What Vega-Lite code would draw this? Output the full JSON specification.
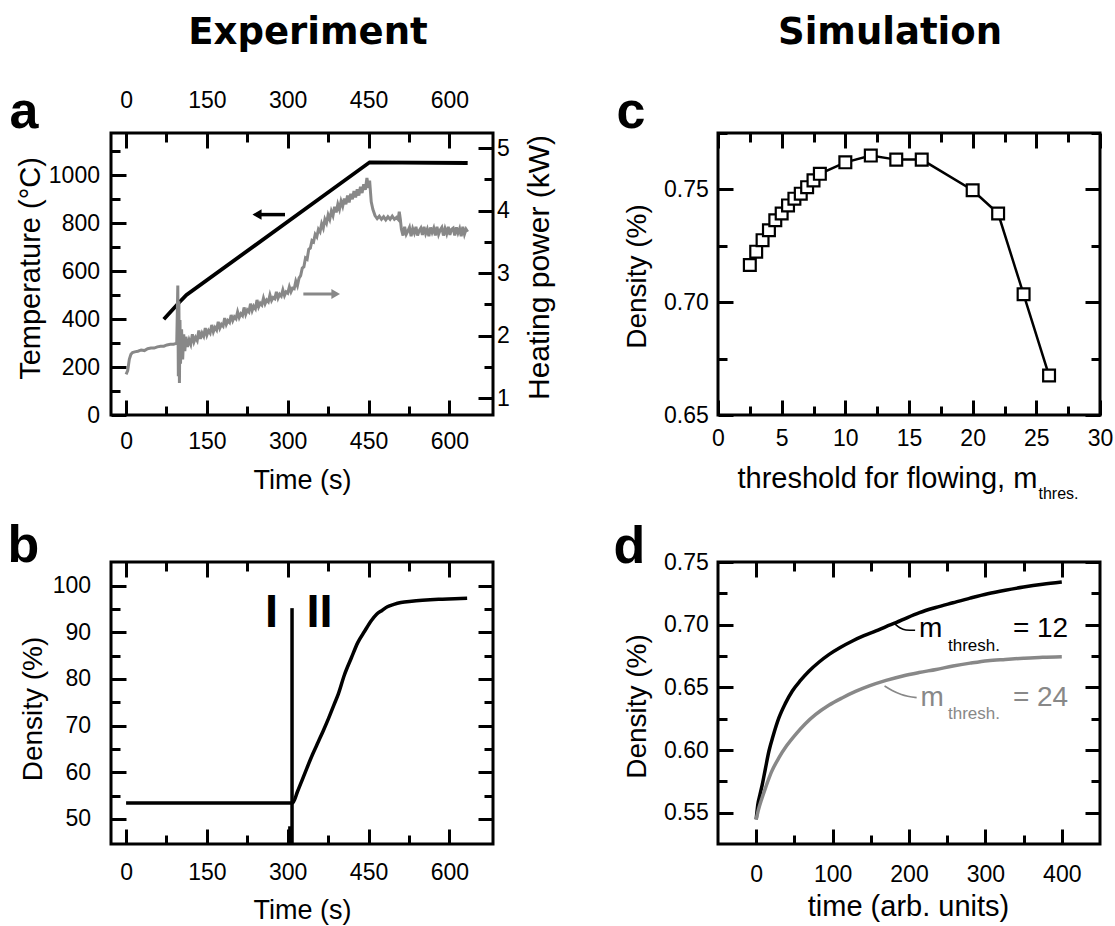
{
  "$schema": "https://vega.github.io/schema/vega-lite/v6.json",
  "padding": {"left": 5, "top": 12, "right": 2, "bottom": 2},
  "columns": 2,
  "bounds": "flush",
  "spacing": {"row": 147, "column": 225},
  "config": {
    "font": "Liberation Sans",
    "background": "white",
    "view": {"stroke": "black", "strokeWidth": 3},
    "axis": {
      "domain": false, "grid": false, "ticks": true, "tickSize": -15, "zindex": 1,
      "tickColor": "black", "tickWidth": 3, "tickOpacity": 1,
      "labelFont": "Liberation Sans", "labelFontSize": 23, "labelColor": "black",
      "labelFlush": false, "labelOverlap": false, "labelBound": false,
      "titleFont": "Liberation Sans", "titleFontWeight": "normal", "titleColor": "black", "titleFontSize": 28
    }
  },
  "datasets": {
    "temp": [{"t":70,"T":399},{"t":84,"T":433},{"t":98,"T":468},{"t":112,"T":500},{"t":452,"T":1053},{"t":634,"T":1050}],
    "power": [
      {"t":0,"P":1.38},{"t":3,"P":1.44},{"t":6,"P":1.62},{"t":9,"P":1.70},{"t":12,"P":1.73},{"t":16,"P":1.74},{"t":22,"P":1.75},{"t":28,"P":1.77},{"t":34,"P":1.76},{"t":40,"P":1.79},{"t":46,"P":1.80},{"t":52,"P":1.80},{"t":58,"P":1.82},{"t":64,"P":1.83},{"t":70,"P":1.83},{"t":76,"P":1.85},{"t":82,"P":1.86},{"t":88,"P":1.86},{"t":94,"P":1.88},
      {"t":96,"P":2.80},{"t":97,"P":1.35},{"t":98,"P":2.55},{"t":99,"P":1.24},{"t":100,"P":2.25},{"t":101,"P":1.55},{"t":103,"P":2.10},{"t":105,"P":1.62},{"t":107,"P":2.02},{"t":109,"P":1.75},{"t":111,"P":1.98},{"t":114,"P":1.82},{"t":117,"P":1.93},{"t":120,"P":1.86},
      {"t":123,"P":2.02},{"t":126,"P":1.90},{"t":129,"P":1.97},{"t":132,"P":1.92},{"t":135,"P":2.08},{"t":138,"P":1.95},{"t":141,"P":2.04},{"t":144,"P":1.99},{"t":147,"P":2.12},{"t":150,"P":2.01},{"t":153,"P":2.08},{"t":156,"P":2.04},{"t":159,"P":2.17},{"t":162,"P":2.06},{"t":165,"P":2.13},{"t":168,"P":2.09},{"t":171,"P":2.22},{"t":174,"P":2.12},{"t":177,"P":2.18},{"t":180,"P":2.15},
      {"t":183,"P":2.28},{"t":186,"P":2.18},{"t":189,"P":2.24},{"t":192,"P":2.21},{"t":195,"P":2.33},{"t":198,"P":2.24},{"t":201,"P":2.30},{"t":204,"P":2.27},{"t":207,"P":2.38},{"t":210,"P":2.29},{"t":213,"P":2.35},{"t":216,"P":2.32},{"t":219,"P":2.45},{"t":222,"P":2.34},{"t":225,"P":2.41},{"t":228,"P":2.38},{"t":231,"P":2.51},{"t":234,"P":2.40},{"t":237,"P":2.47},{"t":240,"P":2.43},
      {"t":243,"P":2.57},{"t":246,"P":2.46},{"t":249,"P":2.52},{"t":252,"P":2.49},{"t":255,"P":2.60},{"t":258,"P":2.51},{"t":261,"P":2.57},{"t":264,"P":2.54},{"t":267,"P":2.65},{"t":270,"P":2.56},{"t":273,"P":2.61},{"t":276,"P":2.59},{"t":279,"P":2.70},{"t":282,"P":2.60},{"t":285,"P":2.66},{"t":288,"P":2.63},{"t":291,"P":2.73},{"t":294,"P":2.64},{"t":297,"P":2.70},{"t":300,"P":2.68},
      {"t":303,"P":2.78},{"t":306,"P":2.70},{"t":309,"P":2.76},{"t":312,"P":2.75},{"t":315,"P":2.87},{"t":318,"P":2.80},{"t":321,"P":2.92},{"t":324,"P":2.96},{"t":327,"P":3.08},{"t":330,"P":3.10},{"t":333,"P":3.24},{"t":336,"P":3.22},{"t":339,"P":3.38},{"t":342,"P":3.40},{"t":345,"P":3.52},{"t":348,"P":3.50},{"t":351,"P":3.62},{"t":354,"P":3.58},{"t":357,"P":3.70},{"t":360,"P":3.66},
      {"t":363,"P":3.79},{"t":366,"P":3.72},{"t":369,"P":3.86},{"t":372,"P":3.80},{"t":375,"P":3.93},{"t":378,"P":3.86},{"t":381,"P":3.99},{"t":384,"P":3.92},{"t":387,"P":4.06},{"t":390,"P":3.97},{"t":393,"P":4.10},{"t":396,"P":4.02},{"t":399,"P":4.15},{"t":402,"P":4.07},{"t":405,"P":4.19},{"t":408,"P":4.10},{"t":411,"P":4.24},{"t":414,"P":4.13},{"t":417,"P":4.27},{"t":420,"P":4.18},
      {"t":423,"P":4.31},{"t":426,"P":4.21},{"t":429,"P":4.34},{"t":432,"P":4.24},{"t":435,"P":4.38},{"t":438,"P":4.28},{"t":441,"P":4.42},{"t":444,"P":4.33},{"t":447,"P":4.52},{"t":450,"P":4.36},{"t":452,"P":4.48},{"t":455,"P":4.14},{"t":458,"P":4.02},{"t":462,"P":3.92},{"t":466,"P":3.87},{"t":470,"P":3.91},{"t":474,"P":3.86},{"t":478,"P":3.90},{"t":482,"P":3.85},{"t":486,"P":3.90},{"t":490,"P":3.86},{"t":494,"P":3.91},{"t":498,"P":3.86},{"t":502,"P":3.89},{"t":505,"P":3.86},{"t":507,"P":3.98},{"t":509,"P":3.86},
      {"t":511,"P":3.70},{"t":514,"P":3.60},{"t":517,"P":3.74},{"t":520,"P":3.62},{"t":523,"P":3.67},{"t":526,"P":3.73},{"t":529,"P":3.59},{"t":532,"P":3.71},{"t":535,"P":3.64},{"t":538,"P":3.74},{"t":541,"P":3.60},{"t":544,"P":3.68},{"t":547,"P":3.72},{"t":550,"P":3.61},{"t":553,"P":3.74},{"t":556,"P":3.63},{"t":559,"P":3.70},{"t":562,"P":3.59},{"t":565,"P":3.73},{"t":568,"P":3.65},{"t":571,"P":3.72},{"t":574,"P":3.60},{"t":577,"P":3.74},{"t":580,"P":3.62},
      {"t":583,"P":3.69},{"t":586,"P":3.73},{"t":589,"P":3.60},{"t":592,"P":3.71},{"t":595,"P":3.63},{"t":598,"P":3.74},{"t":601,"P":3.61},{"t":604,"P":3.70},{"t":607,"P":3.72},{"t":610,"P":3.60},{"t":613,"P":3.73},{"t":616,"P":3.64},{"t":619,"P":3.71},{"t":622,"P":3.59},{"t":625,"P":3.74},{"t":628,"P":3.62},{"t":631,"P":3.70},{"t":634,"P":3.66}
    ],
    "arrowT": [{"t":242,"T":835},{"t":295,"T":835}],
    "arrowTHead": [{"t":243,"T":835}],
    "arrowP": [{"t":329,"P":2.664},{"t":390,"P":2.664}],
    "arrowPHead": [{"t":389,"P":2.664}],
    "dens": [{"t":0,"D":53.4},{"t":100,"D":53.4},{"t":200,"D":53.4},{"t":309,"D":53.4},{"t":318,"D":55.8},{"t":326,"D":58.1},{"t":336,"D":61.0},{"t":346,"D":63.8},{"t":357,"D":66.6},{"t":366,"D":68.9},{"t":376,"D":71.6},{"t":386,"D":74.5},{"t":394,"D":76.8},{"t":405,"D":80.8},{"t":418,"D":84.5},{"t":430,"D":87.8},{"t":443,"D":90.3},{"t":455,"D":92.5},{"t":465,"D":93.9},{"t":475,"D":94.7},{"t":485,"D":95.5},{"t":497,"D":96.0},{"t":510,"D":96.4},{"t":530,"D":96.7},{"t":550,"D":96.9},{"t":580,"D":97.1},{"t":610,"D":97.2},{"t":633,"D":97.3}],
    "brule": [{"t":308,"D":44.6,"D2":95.2},{"t":304,"D":44.6,"D2":48.4}],
    "roman": [{"t":270,"D":91.1,"label":"I"},{"t":359,"D":91.1,"label":"II"}],
    "cdata": [{"m":2.5,"D":0.7165},{"m":3,"D":0.7224},{"m":3.5,"D":0.7275},{"m":4,"D":0.7319},{"m":4.5,"D":0.7363},{"m":5,"D":0.7393},{"m":5.5,"D":0.7429},{"m":6,"D":0.7459},{"m":6.5,"D":0.7481},{"m":7,"D":0.751},{"m":7.5,"D":0.754},{"m":8,"D":0.7569},{"m":10,"D":0.762},{"m":12,"D":0.765},{"m":14,"D":0.7632},{"m":16,"D":0.7632},{"m":20,"D":0.7496},{"m":22,"D":0.7393},{"m":24,"D":0.7035},{"m":26,"D":0.6675}],
    "dcurves": [
      {"t":0,"D":0.5447,"series":"12"},{"t":2,"D":0.556,"series":"12"},{"t":5,"D":0.5645,"series":"12"},{"t":8,"D":0.5726,"series":"12"},{"t":12,"D":0.585,"series":"12"},{"t":16.7,"D":0.5992,"series":"12"},{"t":22,"D":0.611,"series":"12"},{"t":29.8,"D":0.6258,"series":"12"},{"t":38,"D":0.637,"series":"12"},{"t":47.3,"D":0.6471,"series":"12"},{"t":58,"D":0.6555,"series":"12"},{"t":69.3,"D":0.663,"series":"12"},{"t":82,"D":0.67,"series":"12"},{"t":95.5,"D":0.6763,"series":"12"},{"t":110,"D":0.6818,"series":"12"},{"t":126,"D":0.687,"series":"12"},{"t":141,"D":0.6912,"series":"12"},{"t":156.8,"D":0.695,"series":"12"},{"t":170,"D":0.6985,"series":"12"},{"t":183,"D":0.7016,"series":"12"},{"t":198,"D":0.7057,"series":"12"},{"t":213.8,"D":0.7096,"series":"12"},{"t":235,"D":0.7137,"series":"12"},{"t":257.6,"D":0.7175,"series":"12"},{"t":280,"D":0.7212,"series":"12"},{"t":303,"D":0.7247,"series":"12"},{"t":326,"D":0.7275,"series":"12"},{"t":350,"D":0.73,"series":"12"},{"t":375,"D":0.7322,"series":"12"},{"t":400,"D":0.734,"series":"12"},
      {"t":0,"D":0.5447,"series":"24"},{"t":3,"D":0.5525,"series":"24"},{"t":7,"D":0.5605,"series":"24"},{"t":12.3,"D":0.57,"series":"24"},{"t":20,"D":0.5825,"series":"24"},{"t":29.8,"D":0.5939,"series":"24"},{"t":40,"D":0.6035,"series":"24"},{"t":51.7,"D":0.6125,"series":"24"},{"t":64,"D":0.6208,"series":"24"},{"t":77.9,"D":0.6284,"series":"24"},{"t":95,"D":0.6357,"series":"24"},{"t":113,"D":0.6417,"series":"24"},{"t":130,"D":0.6467,"series":"24"},{"t":148,"D":0.6511,"series":"24"},{"t":170,"D":0.6555,"series":"24"},{"t":191.9,"D":0.6591,"series":"24"},{"t":213,"D":0.6618,"series":"24"},{"t":235.6,"D":0.6643,"series":"24"},{"t":257.6,"D":0.667,"series":"24"},{"t":280,"D":0.6693,"series":"24"},{"t":303,"D":0.6713,"series":"24"},{"t":326,"D":0.6723,"series":"24"},{"t":350,"D":0.6732,"series":"24"},{"t":375,"D":0.674,"series":"24"},{"t":400,"D":0.6745,"series":"24"}
    ],
    "leaders": [
      {"t":181,"D":0.7008,"series":"12"},{"t":188,"D":0.6975,"series":"12"},{"t":196,"D":0.6958,"series":"12"},{"t":208,"D":0.6955,"series":"12"},
      {"t":168,"D":0.6511,"series":"24"},{"t":178,"D":0.6475,"series":"24"},{"t":190,"D":0.6443,"series":"24"},{"t":210,"D":0.6418,"series":"24"}
    ],
    "dbig": [{"t":213,"D":0.69,"label":"m","series":"12"},{"t":336,"D":0.69,"label":"= 12","series":"12"},{"t":215,"D":0.6353,"label":"m","series":"24"},{"t":336,"D":0.6353,"label":"= 24","series":"24"}],
    "dsmall": [{"t":251,"D":0.6793,"label":"thresh.","series":"12"},{"t":251,"D":0.6247,"label":"thresh.","series":"24"}]
  },
  "concat": [
    {
      "width": 382, "height": 282,
      "title": {"text": "Experiment", "anchor": "middle", "frame": "group", "font": "DejaVu Sans", "fontWeight": "bold", "fontSize": 37, "color": "black", "baseline": "alphabetic", "offset": 4, "dx": 6},
      "layer": [
        {"data": {"name": "temp"}, "mark": {"type": "line", "color": "black", "strokeWidth": 3.8},
         "encoding": {
           "x": {"field": "t", "type": "quantitative", "scale": {"domain": [-28, 681], "nice": false, "zero": false},
                 "axis": {"orient": "bottom", "values": [0,75,150,225,300,375,450,525,600], "labelExpr": "datum.value % 150 === 0 ? format(datum.value, 'd') : ''", "tickDash": {"condition": {"test": "datum.value % 150 === 0", "value": [30, 1]}, "value": [9, 40]}, "labelPadding": 30, "title": "Time (s)", "titleFontSize": 27, "titleX": 191, "titleY": 73, "titleBaseline": "alphabetic", "titleAlign": "center", "titleAngle": 0}},
           "y": {"field": "T", "type": "quantitative", "scale": {"domain": [0, 1175], "nice": false, "zero": false},
                 "axis": {"orient": "left", "values": [0,100,200,300,400,500,600,700,800,900,1000,1100], "labelExpr": "datum.value % 200 === 0 ? format(datum.value, 'd') : ''", "tickDash": {"condition": {"test": "datum.value % 200 === 0", "value": [30, 1]}, "value": [9, 40]}, "labelPadding": 26.5, "title": "Temperature (°C)", "titleFontSize": 29, "titleX": -72, "titleY": 135, "titleAngle": 270, "titleAlign": "center", "titleBaseline": "alphabetic"}}
         }},
        {"data": {"name": "power"}, "mark": {"type": "line", "color": "#888888", "strokeWidth": 3},
         "encoding": {
           "x": {"field": "t", "type": "quantitative", "scale": {"domain": [-28, 681], "nice": false, "zero": false},
                 "axis": {"orient": "top", "values": [0,75,150,225,300,375,450,525,600], "labelExpr": "datum.value % 150 === 0 ? format(datum.value, 'd') : ''", "tickDash": {"condition": {"test": "datum.value % 150 === 0", "value": [30, 1]}, "value": [9, 40]}, "labelPadding": 36, "title": "a", "titleFontSize": 52, "titleFontWeight": "bold", "titleX": -102, "titleY": -6, "titleAlign": "left", "titleBaseline": "alphabetic", "titleAngle": 0}},
           "y": {"field": "P", "type": "quantitative", "scale": {"domain": [0.73, 5.24], "nice": false, "zero": false},
                 "axis": {"orient": "right", "values": [1,1.5,2,2.5,3,3.5,4,4.5,5], "labelExpr": "datum.value % 1 === 0 ? format(datum.value, 'd') : ''", "tickDash": {"condition": {"test": "datum.value % 1 === 0", "value": [30, 1]}, "value": [9, 40]}, "labelPadding": 18.5, "title": "Heating power (kW)", "titleFontSize": 30, "titleX": 55.5, "titleY": 134, "titleAngle": 270, "titleAlign": "center", "titleBaseline": "alphabetic"}}
         }},
        {"data": {"name": "arrowT"}, "mark": {"type": "line", "color": "black", "strokeWidth": 3.5},
         "encoding": {
           "x": {"field": "t", "type": "quantitative", "scale": {"domain": [-28, 681], "nice": false, "zero": false}, "axis": null},
           "y": {"field": "T", "type": "quantitative", "scale": {"domain": [0, 1175], "nice": false, "zero": false}, "axis": null}
         }},
        {"data": {"name": "arrowTHead"}, "mark": {"type": "point", "shape": "triangle-left", "filled": true, "color": "black", "size": 110, "opacity": 1},
         "encoding": {
           "x": {"field": "t", "type": "quantitative", "scale": {"domain": [-28, 681], "nice": false, "zero": false}, "axis": null},
           "y": {"field": "T", "type": "quantitative", "scale": {"domain": [0, 1175], "nice": false, "zero": false}, "axis": null}
         }},
        {"data": {"name": "arrowP"}, "mark": {"type": "line", "color": "#888888", "strokeWidth": 3},
         "encoding": {
           "x": {"field": "t", "type": "quantitative", "scale": {"domain": [-28, 681], "nice": false, "zero": false}, "axis": null},
           "y": {"field": "P", "type": "quantitative", "scale": {"domain": [0.73, 5.24], "nice": false, "zero": false}, "axis": null}
         }},
        {"data": {"name": "arrowPHead"}, "mark": {"type": "point", "shape": "triangle-right", "filled": true, "color": "#888888", "size": 100, "opacity": 1},
         "encoding": {
           "x": {"field": "t", "type": "quantitative", "scale": {"domain": [-28, 681], "nice": false, "zero": false}, "axis": null},
           "y": {"field": "P", "type": "quantitative", "scale": {"domain": [0.73, 5.24], "nice": false, "zero": false}, "axis": null}
         }}
      ],
      "resolve": {"scale": {"y": "independent"}, "axis": {"x": "independent", "y": "independent"}}
    },
    {
      "width": 382, "height": 282,
      "title": {"text": "Simulation", "anchor": "middle", "frame": "group", "font": "DejaVu Sans", "fontWeight": "bold", "fontSize": 37, "color": "black", "baseline": "alphabetic", "offset": 4, "dx": -19},
      "layer": [
        {"data": {"name": "cdata"}, "mark": {"type": "line", "color": "black", "strokeWidth": 2.5},
         "encoding": {
           "x": {"field": "m", "type": "quantitative", "scale": {"domain": [0, 30], "nice": false, "zero": false},
                 "axis": {"orient": "bottom", "values": [0,2.5,5,7.5,10,12.5,15,17.5,20,22.5,25,27.5,30], "labelExpr": "datum.value % 5 === 0 ? format(datum.value, 'd') : ''", "tickDash": {"condition": {"test": "datum.value % 5 === 0", "value": [30, 1]}, "value": [9, 40]}, "labelPadding": 27.7, "title": "threshold for flowing, m", "titleFontSize": 29, "titleX": 19, "titleY": 72, "titleAlign": "left", "titleBaseline": "alphabetic", "titleAngle": 0}},
           "y": {"field": "D", "type": "quantitative", "scale": {"domain": [0.65, 0.775], "nice": false, "zero": false},
                 "axis": {"orient": "left", "values": [0.65,0.675,0.7,0.725,0.75,0.775], "labelExpr": "abs(datum.value*20 - round(datum.value*20)) < 0.001 ? format(datum.value, '.2f') : ''", "tickDash": {"condition": {"test": "abs(datum.value*20 - round(datum.value*20)) < 0.001", "value": [30, 1]}, "value": [9, 40]}, "labelPadding": 24.7, "title": "Density (%)", "titleFontSize": 28, "titleX": -72.3, "titleY": 143, "titleAngle": 270, "titleAlign": "center", "titleBaseline": "alphabetic"}}
         }},
        {"data": {"name": "cdata"}, "mark": {"type": "point", "shape": "square", "filled": true, "fill": "white", "stroke": "black", "strokeWidth": 2.2, "size": 140, "opacity": 1},
         "encoding": {
           "x": {"field": "m", "type": "quantitative", "scale": {"domain": [0, 30], "nice": false, "zero": false},
                 "axis": {"orient": "top", "values": [0,2.5,5,7.5,10,12.5,15,17.5,20,22.5,25,27.5,30], "labels": false, "tickDash": {"condition": {"test": "datum.value % 5 === 0", "value": [30, 1]}, "value": [9, 40]}, "title": "c", "titleFontSize": 52, "titleFontWeight": "bold", "titleX": -102, "titleY": -6, "titleAlign": "left", "titleBaseline": "alphabetic", "titleAngle": 0}},
           "y": {"field": "D", "type": "quantitative", "scale": {"domain": [0.65, 0.775], "nice": false, "zero": false},
                 "axis": {"orient": "right", "values": [0.65,0.675,0.7,0.725,0.75,0.775], "labels": false, "tickDash": {"condition": {"test": "abs(datum.value*20 - round(datum.value*20)) < 0.001", "value": [30, 1]}, "value": [9, 40]}, "title": "thres.", "titleFontSize": 16, "titleX": -62, "titleY": 365, "titleAngle": 0, "titleAlign": "left", "titleBaseline": "alphabetic"}}
         }}
      ],
      "resolve": {"axis": {"x": "independent", "y": "independent"}}
    },
    {
      "width": 382, "height": 282,
      "layer": [
        {"data": {"name": "dens"}, "mark": {"type": "line", "color": "black", "strokeWidth": 3.5, "interpolate": "monotone"},
         "encoding": {
           "x": {"field": "t", "type": "quantitative", "scale": {"domain": [-28, 681], "nice": false, "zero": false},
                 "axis": {"orient": "bottom", "values": [0,75,150,225,300,375,450,525,600], "labelExpr": "datum.value % 150 === 0 ? format(datum.value, 'd') : ''", "tickDash": {"condition": {"test": "datum.value % 150 === 0", "value": [30, 1]}, "value": [9, 40]}, "labelPadding": 32.5, "title": "Time (s)", "titleFontSize": 27, "titleX": 191, "titleY": 74, "titleBaseline": "alphabetic", "titleAlign": "center", "titleAngle": 0}},
           "y": {"field": "D", "type": "quantitative", "scale": {"domain": [44.6, 105.1], "nice": false, "zero": false},
                 "axis": {"orient": "left", "values": [50,55,60,65,70,75,80,85,90,95,100], "labelExpr": "datum.value % 10 === 0 ? format(datum.value, 'd') : ''", "tickDash": {"condition": {"test": "datum.value % 10 === 0", "value": [30, 1]}, "value": [9, 40]}, "labelPadding": 35.4, "title": "Density (%)", "titleFontSize": 28, "titleX": -69.4, "titleY": 146.5, "titleAngle": 270, "titleAlign": "center", "titleBaseline": "alphabetic"}}
         }},
        {"data": {"name": "brule"}, "mark": {"type": "rule", "color": "black", "strokeWidth": 3.5},
         "encoding": {
           "x": {"field": "t", "type": "quantitative", "scale": {"domain": [-28, 681], "nice": false, "zero": false},
                 "axis": {"orient": "top", "values": [0,75,150,225,300,375,450,525,600], "labels": false, "tickDash": {"condition": {"test": "datum.value % 150 === 0", "value": [30, 1]}, "value": [9, 40]}, "title": "b", "titleFontSize": 52, "titleFontWeight": "bold", "titleX": -104, "titleY": -1, "titleAlign": "left", "titleBaseline": "alphabetic", "titleAngle": 0}},
           "y": {"field": "D", "type": "quantitative", "scale": {"domain": [44.6, 105.1], "nice": false, "zero": false},
                 "axis": {"orient": "right", "values": [50,55,60,65,70,75,80,85,90,95,100], "labels": false, "tickDash": {"condition": {"test": "datum.value % 10 === 0", "value": [30, 1]}, "value": [9, 40]}, "title": null}},
           "y2": {"field": "D2"}
         }},
        {"data": {"name": "roman"}, "mark": {"type": "text", "font": "Liberation Sans", "fontWeight": "bold", "fontSize": 47, "align": "center", "baseline": "alphabetic", "color": "black"},
         "encoding": {
           "x": {"field": "t", "type": "quantitative", "scale": {"domain": [-28, 681], "nice": false, "zero": false}, "axis": null},
           "y": {"field": "D", "type": "quantitative", "scale": {"domain": [44.6, 105.1], "nice": false, "zero": false}, "axis": null},
           "text": {"field": "label"}
         }}
      ],
      "resolve": {"axis": {"x": "independent", "y": "independent"}}
    },
    {
      "width": 382, "height": 282,
      "layer": [
        {"data": {"name": "dcurves"}, "mark": {"type": "line", "strokeWidth": 3.5, "interpolate": "monotone"},
         "encoding": {
           "x": {"field": "t", "type": "quantitative", "scale": {"domain": [-50, 450], "nice": false, "zero": false},
                 "axis": {"orient": "bottom", "values": [0,50,100,150,200,250,300,350,400], "labelExpr": "datum.value % 100 === 0 ? format(datum.value, 'd') : ''", "tickDash": {"condition": {"test": "datum.value % 100 === 0", "value": [30, 1]}, "value": [9, 40]}, "labelPadding": 34.2, "title": "time (arb. units)", "titleFontSize": 29, "titleX": 190, "titleY": 71.4, "titleBaseline": "alphabetic", "titleAlign": "center", "titleAngle": 0}},
           "y": {"field": "D", "type": "quantitative", "scale": {"domain": [0.525, 0.75], "nice": false, "zero": false},
                 "axis": {"orient": "left", "values": [0.55,0.575,0.6,0.625,0.65,0.675,0.7,0.725,0.75], "labelExpr": "abs(datum.value*20 - round(datum.value*20)) < 0.001 ? format(datum.value, '.2f') : ''", "tickDash": {"condition": {"test": "abs(datum.value*20 - round(datum.value*20)) < 0.001", "value": [30, 1]}, "value": [9, 40]}, "labelPadding": 24.7, "title": "Density (%)", "titleFontSize": 28, "titleX": -72.3, "titleY": 144, "titleAngle": 270, "titleAlign": "center", "titleBaseline": "alphabetic"}},
           "color": {"field": "series", "type": "nominal", "scale": {"domain": ["12", "24"], "range": ["#000000", "#888888"]}, "legend": null}
         }},
        {"data": {"name": "leaders"}, "mark": {"type": "line", "strokeWidth": 1.6, "interpolate": "monotone"},
         "encoding": {
           "x": {"field": "t", "type": "quantitative", "scale": {"domain": [-50, 450], "nice": false, "zero": false},
                 "axis": {"orient": "top", "values": [0,50,100,150,200,250,300,350,400], "labels": false, "tickDash": {"condition": {"test": "datum.value % 100 === 0", "value": [30, 1]}, "value": [9, 40]}, "title": "d", "titleFontSize": 52, "titleFontWeight": "bold", "titleX": -105, "titleY": 0, "titleAlign": "left", "titleBaseline": "alphabetic", "titleAngle": 0}},
           "y": {"field": "D", "type": "quantitative", "scale": {"domain": [0.525, 0.75], "nice": false, "zero": false},
                 "axis": {"orient": "right", "values": [0.55,0.575,0.6,0.625,0.65,0.675,0.7,0.725,0.75], "labels": false, "tickDash": {"condition": {"test": "abs(datum.value*20 - round(datum.value*20)) < 0.001", "value": [30, 1]}, "value": [9, 40]}, "title": null}},
           "color": {"field": "series", "type": "nominal", "scale": {"domain": ["12", "24"], "range": ["#000000", "#888888"]}, "legend": null}
         }},
        {"data": {"name": "dbig"}, "mark": {"type": "text", "font": "Liberation Sans", "fontSize": 28, "align": "left", "baseline": "alphabetic"},
         "encoding": {
           "x": {"field": "t", "type": "quantitative", "scale": {"domain": [-50, 450], "nice": false, "zero": false}, "axis": null},
           "y": {"field": "D", "type": "quantitative", "scale": {"domain": [0.525, 0.75], "nice": false, "zero": false}, "axis": null},
           "text": {"field": "label"},
           "color": {"field": "series", "type": "nominal", "scale": {"domain": ["12", "24"], "range": ["#000000", "#888888"]}, "legend": null}
         }},
        {"data": {"name": "dsmall"}, "mark": {"type": "text", "font": "Liberation Sans", "fontSize": 17, "align": "left", "baseline": "alphabetic"},
         "encoding": {
           "x": {"field": "t", "type": "quantitative", "scale": {"domain": [-50, 450], "nice": false, "zero": false}, "axis": null},
           "y": {"field": "D", "type": "quantitative", "scale": {"domain": [0.525, 0.75], "nice": false, "zero": false}, "axis": null},
           "text": {"field": "label"},
           "color": {"field": "series", "type": "nominal", "scale": {"domain": ["12", "24"], "range": ["#000000", "#888888"]}, "legend": null}
         }}
      ],
      "resolve": {"axis": {"x": "independent", "y": "independent"}}
    }
  ]
}
